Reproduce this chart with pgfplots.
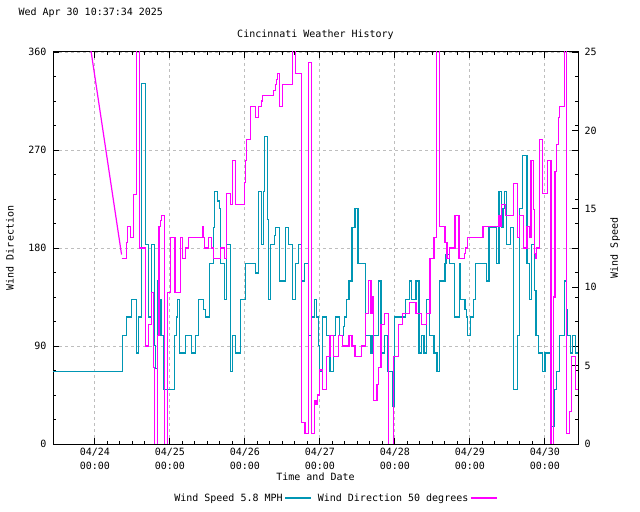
\documentclass[border=0pt]{standalone}
\usepackage{fontspec}
\setmainfont{DejaVu Sans Mono}
\usepackage{pgfplots}
\pgfplotsset{compat=1.18}
\definecolor{wspd}{RGB}{0,150,180}
\definecolor{wdir}{RGB}{255,0,255}
\definecolor{gridc}{RGB}{190,190,190}

% wind speed (mph), step changes: day offset from 04/24 00:00
\pgfplotstableread{
d v
-0.558 4.6
0.373 6.9
0.418 8.1
0.484 9.2
0.551 5.8
0.580 8.1
0.625 23.0
0.678 12.7
0.718 8.1
0.758 12.7
0.790 6.3
0.807 4.8
0.834 10.4
0.864 9.2
0.883 6.9
0.923 3.5
1.064 6.9
1.090 8.1
1.104 9.2
1.130 5.8
1.206 6.9
1.286 5.8
1.347 6.9
1.387 9.2
1.453 8.6
1.471 8.1
1.524 11.5
1.587 13.8
1.600 16.1
1.631 15.5
1.662 15.0
1.676 11.5
1.724 9.2
1.756 12.7
1.804 4.6
1.840 6.9
1.880 5.8
1.938 9.2
2.013 11.5
2.142 10.9
2.187 16.1
2.218 12.7
2.253 16.1
2.267 19.6
2.298 14.3
2.311 9.2
2.342 12.7
2.391 13.3
2.404 13.8
2.467 10.4
2.545 13.8
2.585 12.7
2.630 9.2
2.675 11.5
2.715 12.7
2.758 10.4
2.792 11.5
2.846 6.9
2.891 8.1
2.926 9.2
2.960 8.1
2.985 6.3
2.995 4.6
3.037 8.1
3.090 6.9
3.134 4.6
3.178 6.9
3.212 8.1
3.258 6.9
3.310 7.5
3.327 8.1
3.354 9.2
3.389 10.4
3.429 13.8
3.469 15.0
3.509 11.5
3.606 6.9
3.681 5.8
3.695 6.9
3.779 10.4
3.814 5.8
3.863 6.9
3.898 4.6
3.965 2.4
3.990 8.1
4.146 9.2
4.190 10.4
4.221 9.2
4.283 10.4
4.323 5.8
4.350 6.9
4.389 5.8
4.425 9.2
4.460 6.9
4.522 5.8
4.562 4.6
4.597 10.4
4.668 11.5
4.681 12.1
4.730 11.5
4.792 8.1
4.863 11.5
4.876 9.2
4.934 8.6
4.951 8.1
4.973 6.9
5.009 8.1
5.044 9.2
5.079 11.5
5.220 10.4
5.256 13.8
5.352 11.5
5.388 16.1
5.419 14.3
5.427 13.8
5.441 15.0
5.463 16.1
5.493 12.7
5.546 13.8
5.586 3.5
5.630 6.9
5.665 15.0
5.705 18.4
5.763 11.5
5.798 9.2
5.824 12.7
5.860 9.8
5.883 6.9
5.914 5.8
5.971 4.6
6.003 5.8
6.082 1.1
6.126 3.5
6.157 4.6
6.197 6.9
6.259 10.4
6.290 8.6
6.300 6.9
6.339 5.8
6.370 6.9
6.405 5.8
6.442 5.8
}\speed

% wind direction (degrees)
\pgfplotstableread{
d v
0.356 170
0.418 185
0.431 200
0.480 190
0.520 229
0.560 370
0.590 180
0.680 90
0.720 110
0.760 139
0.785 70
0.800 -10
0.840 100
0.855 200
0.870 205
0.885 210
0.930 -10
0.972 139
1.004 190
1.068 139
1.138 190
1.172 170
1.210 180
1.245 190
1.431 200
1.453 190
1.467 180
1.520 190
1.560 180
1.587 170
1.676 180
1.724 170
1.756 230
1.804 220
1.840 260
1.880 220
1.991 240
2.009 260
2.018 280
2.080 310
2.142 300
2.187 310
2.218 315
2.231 320
2.387 325
2.404 330
2.427 335
2.440 340
2.467 310
2.505 330
2.638 370
2.678 340
2.758 20
2.802 10
2.846 350
2.891 10
2.926 40
2.948 36
2.971 45
2.992 68
3.037 50
3.090 80
3.134 100
3.178 80
3.245 100
3.305 90
3.389 100
3.429 90
3.469 80
3.558 90
3.606 120
3.646 150
3.681 120
3.695 135
3.712 40
3.761 55
3.779 70
3.814 110
3.858 120
3.920 -10
3.987 80
4.053 110
4.097 120
4.190 130
4.283 120
4.350 110
4.425 120
4.469 170
4.522 190
4.558 370
4.597 200
4.668 185
4.695 170
4.730 180
4.801 210
4.854 170
4.929 175
4.947 180
4.973 190
5.176 200
5.388 210
5.401 200
5.427 220
5.476 210
5.586 239
5.630 190
5.665 210
5.714 180
5.762 200
5.797 190
5.815 260
5.845 215
5.860 175
5.875 170
5.890 180
5.930 280
5.970 230
6.030 260
6.082 -10
6.120 135
6.135 250
6.157 275
6.180 300
6.200 310
6.262 370
6.290 10
6.330 30
6.360 80
6.410 50
6.442 50
}\direction

\begin{document}
\begin{tikzpicture}[font=\fontsize{10bp}{13bp}\selectfont]
\fill[white] (0,0) rectangle (640bp,512bp);
\useasboundingbox (0,0) rectangle (640bp,512bp);
\pgfplotsset{
  base/.style={
    width=525bp, height=392bp, scale only axis,
    at={(53bp,68bp)}, anchor=south west,
    xmin=-0.558, xmax=6.442,
    /pgf/number format/assume math mode=true,
    tick align=inside,
    major tick length=6bp, minor tick length=3bp,
    every tick/.style={black, line width=0.8bp},
  },
}
% frame, grid, left scale, labels, legend
\begin{axis}[base,
  ymin=0, ymax=360,
  xtick={0,...,6},
  xticklabels={04/24\\00:00,04/25\\00:00,04/26\\00:00,04/27\\00:00,04/28\\00:00,04/29\\00:00,04/30\\00:00},
  xticklabel style={align=center, font=\fontsize{10bp}{14bp}\selectfont, yshift=-1bp},
  minor x tick num=5,
  ytick={0,90,180,270,360},
  minor y tick num=3,
  xtick pos=both, ytick pos=both,
  xticklabel pos=lower, yticklabel pos=left,
  yticklabel style={xshift=-3bp},
  grid=major, grid style={gridc, line width=0.8bp, dash pattern=on 3bp off 3bp},
  axis line style={black, line width=1bp},
  title={Cincinnati Weather History},
  title style={at={(axis description cs:0.5,1.028)}, anchor=center, yshift=0pt},
  xlabel={Time and Date},
  xlabel style={at={(axis description cs:0.5,-0.084)}, anchor=center},
  ylabel={Wind Direction},
  ylabel style={at={(axis description cs:-0.082,0.5)}, anchor=center},
  legend style={at={(axis description cs:0.537,-0.138)}, anchor=center,
    draw=none, fill=none, legend columns=2,
    /tikz/every even column/.append style={column sep=4bp}},
  legend plot pos=right,
  legend image code/.code={\draw[#1] (0bp,0bp) -- (26bp,0bp);},
]
\addlegendimage{wspd, line width=1.2bp}
\addlegendentry{Wind Speed 5.8 MPH}
\addlegendimage{wdir, line width=1.2bp}
\addlegendentry{Wind Direction 50 degrees}
\end{axis}
% wind speed on the right scale
\begin{axis}[base,
  ymin=0, ymax=25,
  axis x line=none, axis y line*=right,
  axis line style={black, line width=1bp},
  ytick={0,5,...,25},
  yticklabel style={xshift=3bp},
  ylabel={Wind Speed},
  ylabel style={at={(axis description cs:1.0705,0.5)}, anchor=center},
]
\addplot[const plot, wspd, line width=1.2bp] table[x=d, y=v] {\speed};
\end{axis}
% wind direction on the left scale
\begin{axis}[base, ymin=0, ymax=360, hide axis]
\addplot[sharp plot, wdir, line width=1.2bp] coordinates {(-0.070,369.6) (0.356,174)};
\addplot[const plot, wdir, line width=1.2bp] table[x=d, y=v] {\direction};
\end{axis}
\node[anchor=west] at (15bp,499bp) {Wed Apr 30 10:37:34 2025};
\end{tikzpicture}
\end{document}
